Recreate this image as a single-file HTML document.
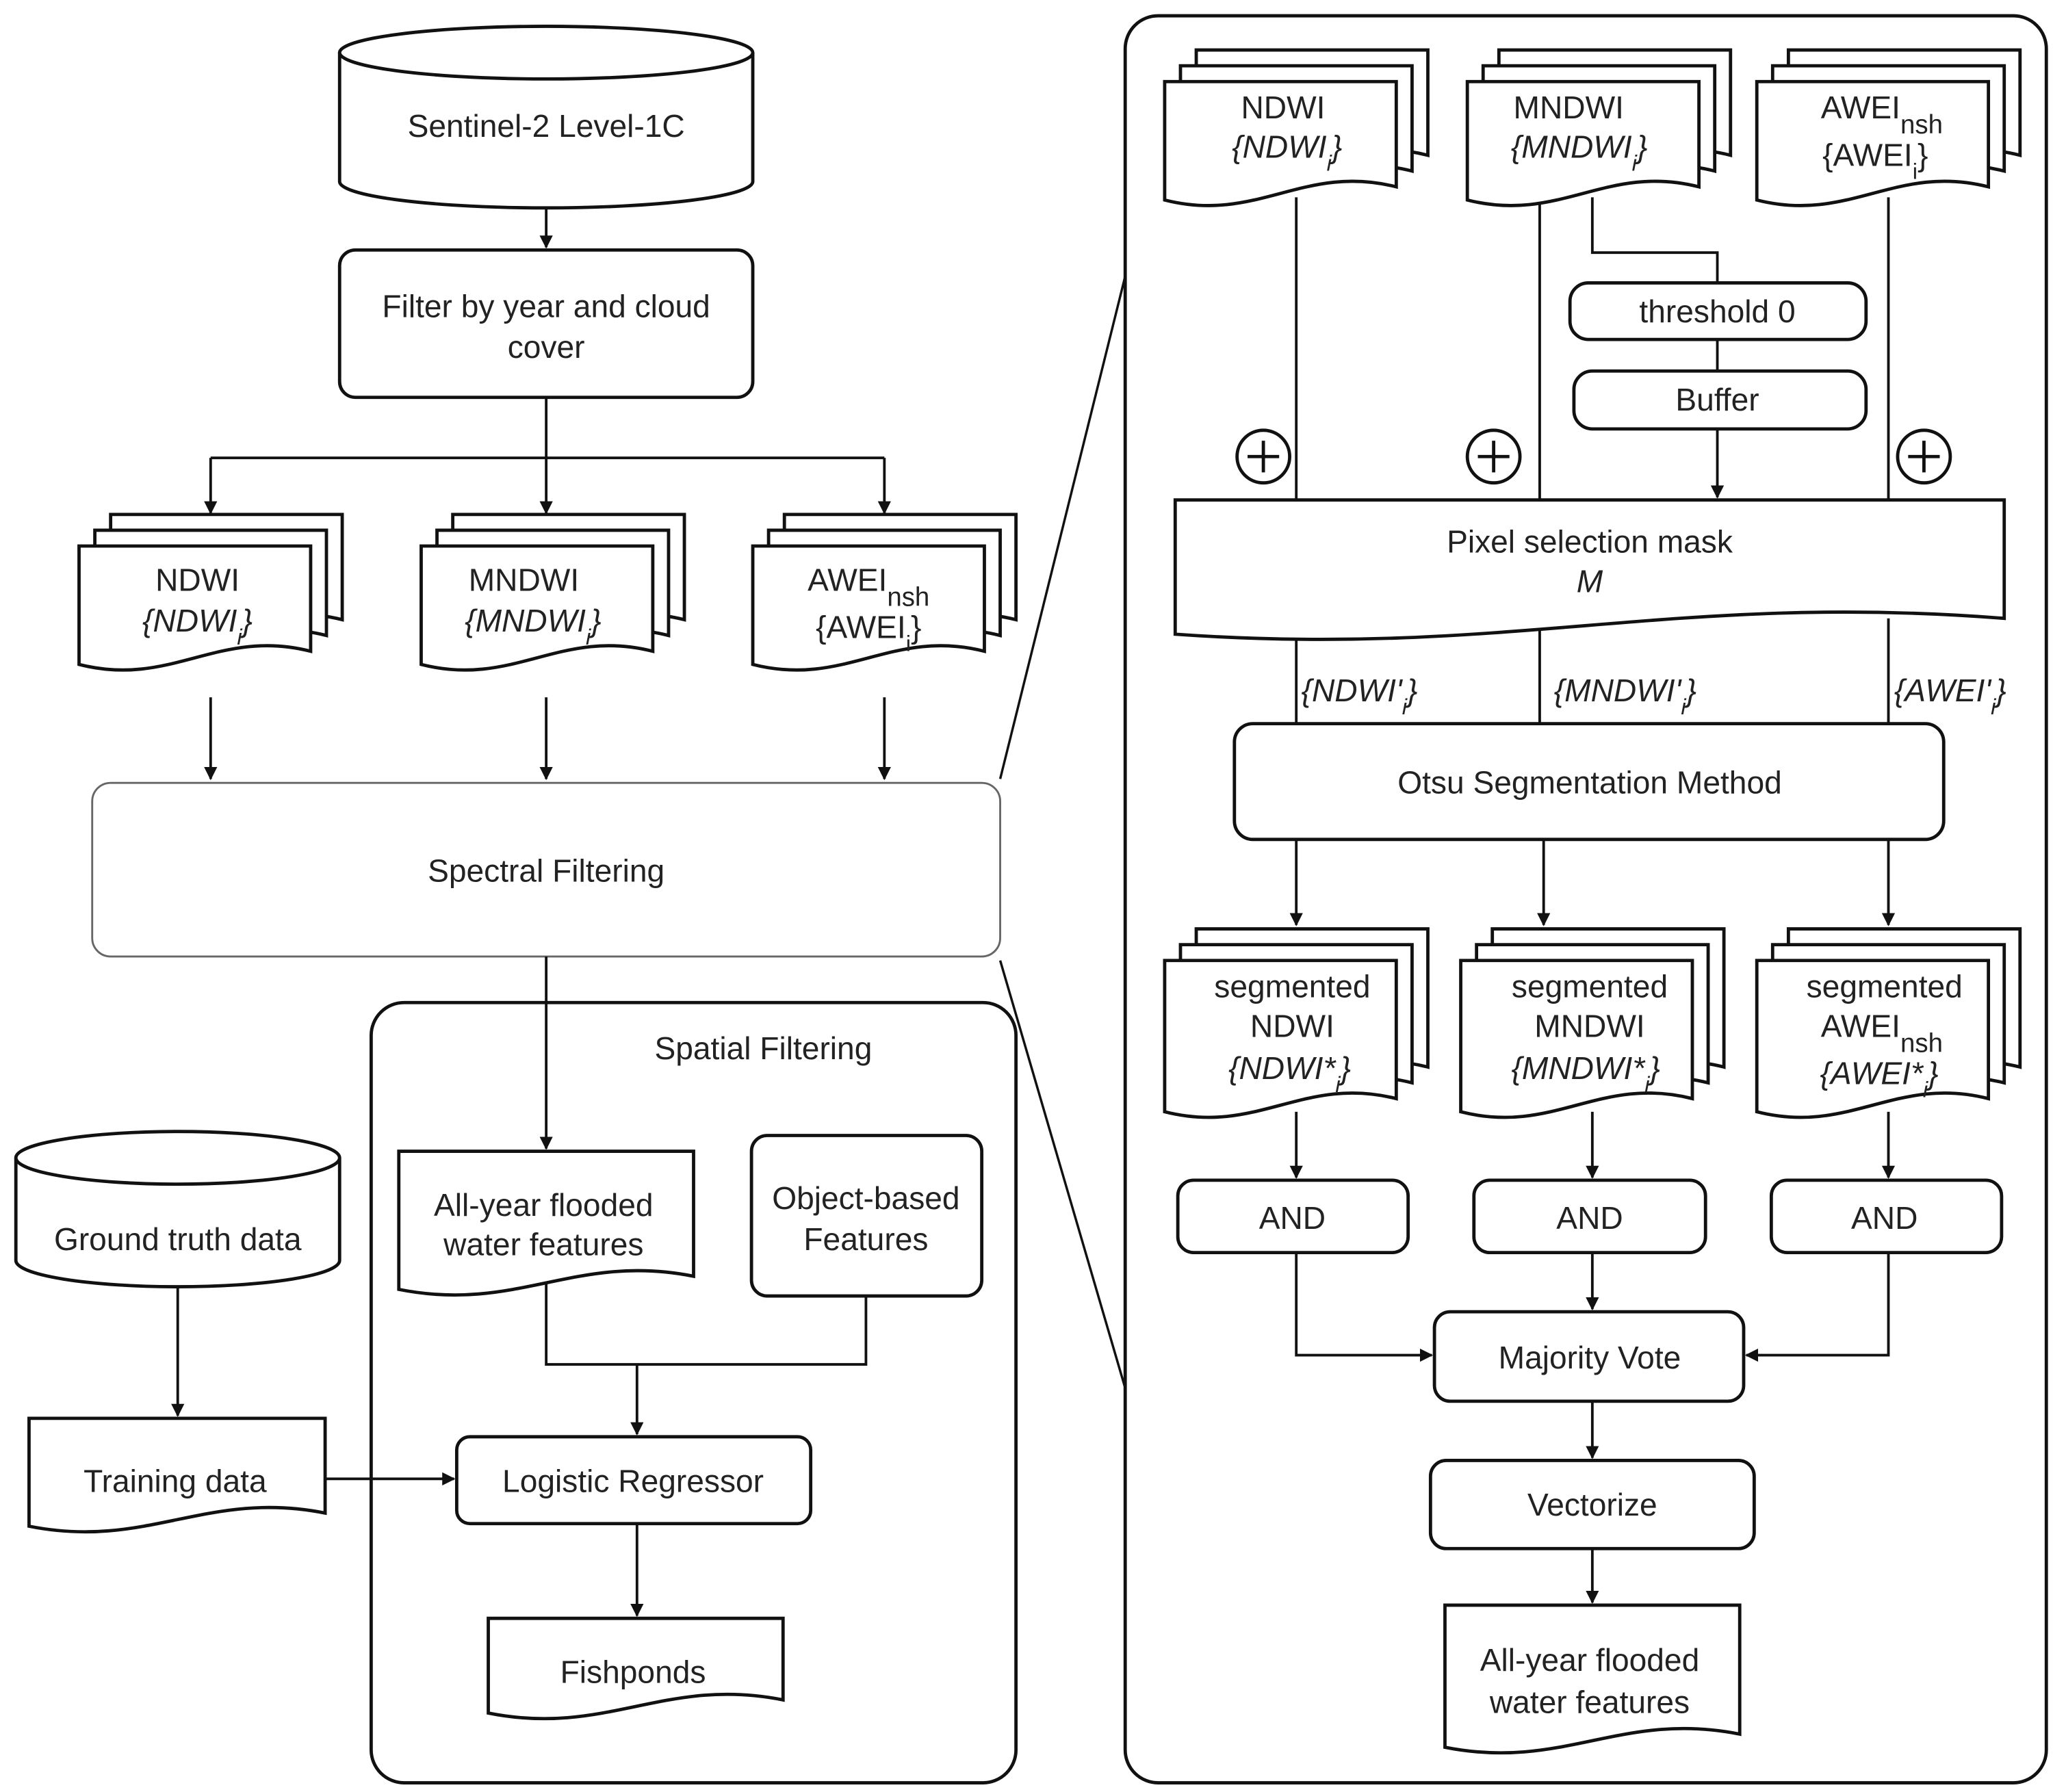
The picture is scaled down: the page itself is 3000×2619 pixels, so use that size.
<!DOCTYPE html>
<html><head><meta charset="utf-8"><style>html,body{margin:0;padding:0;background:#fff}svg{display:block}</style></head>
<body>
<svg width="3000" height="2619" viewBox="0 0 1560 1362" xmlns="http://www.w3.org/2000/svg" xmlns:xlink="http://www.w3.org/1999/xlink" font-family="Liberation Sans, sans-serif" font-size="24">
<defs>
<marker id="a" markerWidth="10" markerHeight="10" refX="9" refY="5" orient="auto" markerUnits="userSpaceOnUse" viewBox="0 0 10 10"><path d="M0,0 L10,5 L0,10 Z" fill="#111"/></marker>
<path id="A" d="M0,0 H176 V80 C105.6,62 70.4,108 0,90 Z"/>
<path id="B" d="M0,0 H176 V105 C105.6,87 70.4,133 0,115 Z"/>
</defs>
<rect width="1560" height="1362" fill="#fff"/>
<g fill="#fff" stroke="#111" stroke-width="2.5">
<rect x="282" y="762" width="490" height="593" rx="25"/>
<rect x="855" y="12" width="700" height="1343" rx="25"/>
<rect x="70" y="595" width="690" height="132" rx="14" stroke="#666" stroke-width="1.5"/>
</g>
<g fill="none" stroke="#111" stroke-width="2">
<line x1="415" y1="150" x2="415" y2="188" marker-end="url(#a)"/>
<polyline points="415,302 415,348"/>
<line x1="160" y1="348" x2="672" y2="348"/>
<line x1="160" y1="348" x2="160" y2="390" marker-end="url(#a)"/>
<line x1="415" y1="348" x2="415" y2="390" marker-end="url(#a)"/>
<line x1="672" y1="348" x2="672" y2="390" marker-end="url(#a)"/>
<line x1="160" y1="530" x2="160" y2="592" marker-end="url(#a)"/>
<line x1="415" y1="530" x2="415" y2="592" marker-end="url(#a)"/>
<line x1="672" y1="530" x2="672" y2="592" marker-end="url(#a)"/>
<line x1="415" y1="727" x2="415" y2="873" marker-end="url(#a)"/>
<polyline points="415,975 415,1037 658,1037 658,985"/>
<line x1="484" y1="1037" x2="484" y2="1090" marker-end="url(#a)"/>
<line x1="484" y1="1158" x2="484" y2="1228" marker-end="url(#a)"/>
<line x1="135" y1="972" x2="135" y2="1076" marker-end="url(#a)"/>
<line x1="247" y1="1124" x2="345" y2="1124" marker-end="url(#a)"/>
<line x1="760" y1="592" x2="855" y2="210" stroke-width="1.8"/>
<line x1="760" y1="730" x2="855" y2="1055" stroke-width="1.8"/>
<line x1="985" y1="150" x2="985" y2="380"/>
<line x1="1170" y1="150" x2="1170" y2="380"/>
<line x1="1435" y1="150" x2="1435" y2="380"/>
<polyline points="1210,150 1210,192 1305,192 1305,215"/>
<line x1="1305" y1="258" x2="1305" y2="282"/>
<line x1="1305" y1="326" x2="1305" y2="378" marker-end="url(#a)"/>
<line x1="985" y1="470" x2="985" y2="550"/>
<line x1="1170" y1="470" x2="1170" y2="550"/>
<line x1="1435" y1="470" x2="1435" y2="550"/>
<line x1="985" y1="638" x2="985" y2="703" marker-end="url(#a)"/>
<line x1="1173" y1="638" x2="1173" y2="703" marker-end="url(#a)"/>
<line x1="1435" y1="638" x2="1435" y2="703" marker-end="url(#a)"/>
<line x1="985" y1="845" x2="985" y2="895" marker-end="url(#a)"/>
<line x1="1210" y1="845" x2="1210" y2="895" marker-end="url(#a)"/>
<line x1="1435" y1="845" x2="1435" y2="895" marker-end="url(#a)"/>
<polyline points="985,952 985,1030 1088,1030" marker-end="url(#a)"/>
<line x1="1210" y1="952" x2="1210" y2="995" marker-end="url(#a)"/>
<polyline points="1435,952 1435,1030 1327,1030" marker-end="url(#a)"/>
<line x1="1210" y1="1065" x2="1210" y2="1108" marker-end="url(#a)"/>
<line x1="1210" y1="1177" x2="1210" y2="1218" marker-end="url(#a)"/>
</g>
<g fill="#fff" stroke="#111" stroke-width="2.5">
<path d="M258,40 V138 A157,20 0 0 0 572,138 V40"/><ellipse cx="415" cy="40" rx="157" ry="20"/>
<rect x="258" y="190" width="314" height="112" rx="12"/>
<g transform="translate(60,415)"><use xlink:href="#A" x="24" y="-24"/><use xlink:href="#A" x="12" y="-12"/><use xlink:href="#A"/></g>
<g transform="translate(320,415)"><use xlink:href="#A" x="24" y="-24"/><use xlink:href="#A" x="12" y="-12"/><use xlink:href="#A"/></g>
<g transform="translate(572,415)"><use xlink:href="#A" x="24" y="-24"/><use xlink:href="#A" x="12" y="-12"/><use xlink:href="#A"/></g>
<path d="M303,875 H527 V970 C437,952 393,998 303,980 Z"/>
<rect x="571" y="863" width="175" height="122" rx="12"/>
<rect x="347" y="1092" width="269" height="66" rx="10"/>
<path d="M371,1230 H595 V1292 C505,1274 461,1320 371,1302 Z"/>
<path d="M12,880 V958 A123,20 0 0 0 258,958 V880"/><ellipse cx="135" cy="880" rx="123" ry="20"/>
<path d="M22,1078 H247 V1150 C157,1132 112,1178 22,1160 Z"/>
<g transform="translate(885,62)"><use xlink:href="#A" x="24" y="-24"/><use xlink:href="#A" x="12" y="-12"/><use xlink:href="#A"/></g>
<g transform="translate(1115,62)"><use xlink:href="#A" x="24" y="-24"/><use xlink:href="#A" x="12" y="-12"/><use xlink:href="#A"/></g>
<g transform="translate(1335,62)"><use xlink:href="#A" x="24" y="-24"/><use xlink:href="#A" x="12" y="-12"/><use xlink:href="#A"/></g>
<rect x="1193" y="215" width="225" height="43" rx="14"/>
<rect x="1196" y="282" width="222" height="44" rx="14"/>
<circle cx="960" cy="347" r="20"/><path d="M948,347 H972 M960,335 V359"/>
<circle cx="1135" cy="347" r="20"/><path d="M1123,347 H1147 M1135,335 V359"/>
<circle cx="1462" cy="347" r="20"/><path d="M1450,347 H1474 M1462,335 V359"/>
<path d="M893,380 H1523 V470 C1271,450 1145,500 893,482 Z"/>
<rect x="938" y="550" width="539" height="88" rx="14"/>
<g transform="translate(885,730)"><use xlink:href="#B" x="24" y="-24"/><use xlink:href="#B" x="12" y="-12"/><use xlink:href="#B"/></g>
<g transform="translate(1110,730)"><use xlink:href="#B" x="24" y="-24"/><use xlink:href="#B" x="12" y="-12"/><use xlink:href="#B"/></g>
<g transform="translate(1335,730)"><use xlink:href="#B" x="24" y="-24"/><use xlink:href="#B" x="12" y="-12"/><use xlink:href="#B"/></g>
<rect x="895" y="897" width="175" height="55" rx="12"/>
<rect x="1120" y="897" width="176" height="55" rx="12"/>
<rect x="1346" y="897" width="175" height="55" rx="12"/>
<rect x="1090" y="997" width="235" height="68" rx="12"/>
<rect x="1087" y="1110" width="246" height="67" rx="12"/>
<path d="M1098,1220 H1322 V1318 C1232,1300 1188,1346 1098,1328 Z"/>
</g>
<g fill="#222" text-anchor="middle">
<text x="415" y="104">Sentinel-2 Level-1C</text>
<text x="415" y="241">Filter by year and cloud</text>
<text x="415" y="272">cover</text>
<text x="150" y="449">NDWI</text>
<text x="150" y="480" font-style="italic">{NDWI<tspan baseline-shift="sub" font-size="17">i</tspan>}</text>
<text x="398" y="449">MNDWI</text>
<text x="405" y="480" font-style="italic">{MNDWI<tspan baseline-shift="sub" font-size="17">i</tspan>}</text>
<text x="660" y="449">AWEI<tspan baseline-shift="sub" font-size="20">nsh</tspan></text>
<text x="660" y="485">{AWEI<tspan baseline-shift="sub" font-size="17">i</tspan>}</text>
<text x="415" y="670">Spectral Filtering</text>
<text x="580" y="805">Spatial Filtering</text>
<text x="413" y="924">All-year flooded</text>
<text x="413" y="954">water features</text>
<text x="658" y="919">Object-based</text>
<text x="658" y="950">Features</text>
<text x="481" y="1134">Logistic Regressor</text>
<text x="481" y="1279">Fishponds</text>
<text x="135" y="950">Ground truth data</text>
<text x="133" y="1134">Training data</text>
<text x="975" y="90">NDWI</text>
<text x="978" y="120" font-style="italic">{NDWI<tspan baseline-shift="sub" font-size="17">i</tspan>}</text>
<text x="1192" y="90">MNDWI</text>
<text x="1200" y="120" font-style="italic">{MNDWI<tspan baseline-shift="sub" font-size="17">i</tspan>}</text>
<text x="1430" y="90">AWEI<tspan baseline-shift="sub" font-size="20">nsh</tspan></text>
<text x="1425" y="126">{AWEI<tspan baseline-shift="sub" font-size="17">i</tspan>}</text>
<text x="1305" y="245">threshold 0</text>
<text x="1305" y="312">Buffer</text>
<text x="1208" y="420">Pixel selection mask</text>
<text x="1208" y="450" font-style="italic">M</text>
<text x="1033" y="533" font-style="italic">{NDWI'<tspan baseline-shift="sub" font-size="17">i</tspan>}</text>
<text x="1235" y="533" font-style="italic">{MNDWI'<tspan baseline-shift="sub" font-size="17">i</tspan>}</text>
<text x="1482" y="533" font-style="italic">{AWEI'<tspan baseline-shift="sub" font-size="17">i</tspan>}</text>
<text x="1208" y="603">Otsu Segmentation Method</text>
<text x="982" y="758">segmented</text>
<text x="982" y="788">NDWI</text>
<text x="980" y="820" font-style="italic">{NDWI*<tspan baseline-shift="sub" font-size="17">i</tspan>}</text>
<text x="1208" y="758">segmented</text>
<text x="1208" y="788">MNDWI</text>
<text x="1205" y="820" font-style="italic">{MNDWI*<tspan baseline-shift="sub" font-size="17">i</tspan>}</text>
<text x="1432" y="758">segmented</text>
<text x="1430" y="788">AWEI<tspan baseline-shift="sub" font-size="20">nsh</tspan></text>
<text x="1428" y="824" font-style="italic">{AWEI*<tspan baseline-shift="sub" font-size="17">i</tspan>}</text>
<text x="982" y="934">AND</text>
<text x="1208" y="934">AND</text>
<text x="1432" y="934">AND</text>
<text x="1208" y="1040">Majority Vote</text>
<text x="1210" y="1152">Vectorize</text>
<text x="1208" y="1270">All-year flooded</text>
<text x="1208" y="1302">water features</text>
</g>
</svg>
</body></html>
